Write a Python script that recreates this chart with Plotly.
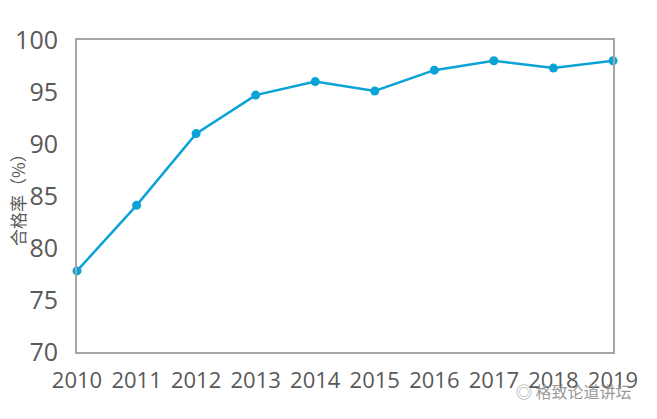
import plotly.graph_objects as go

years = [2010, 2011, 2012, 2013, 2014, 2015, 2016, 2017, 2018, 2019]
pass_rate = [77.8, 84.1, 91.0, 94.7, 96.0, 95.1, 97.1, 98.0, 97.3, 98.0]
y_ticks = [70, 75, 80, 85, 90, 95, 100]

fig = go.Figure()

fig.add_trace(go.Scatter(
    x=years,
    y=pass_rate,
    mode="lines+markers",
    line=dict(color="#0AA3D6", width=2.5),
    marker=dict(color="#0AA3D6", size=9),
    cliponaxis=False,
    showlegend=False
))

# page has an 8px body margin, so the figure is sized to fit inside it
fig.update_layout(
    width=649,
    height=411,
    margin=dict(l=69, r=44, t=32, b=67, autoexpand=False),
    plot_bgcolor="white",
    paper_bgcolor="white",
    font=dict(family="Open Sans", color="#595959"),
    xaxis=dict(
        range=[2010, 2019],
        tickvals=years,
        ticktext=[str(y) for y in years],
        tickfont=dict(size=22, color="#595959"),
        showgrid=False,
        zeroline=False,
        showline=True,
        linecolor="#A6A6A6",
        linewidth=2,
        mirror=True,
        ticks="",
        ticklabelstandoff=8,
        automargin=False
    ),
    yaxis=dict(
        range=[70, 100],
        tickvals=y_ticks,
        tickfont=dict(size=25, color="#595959"),
        showgrid=False,
        zeroline=False,
        showline=True,
        linecolor="#A6A6A6",
        linewidth=2,
        mirror=True,
        ticks="",
        ticklabelstandoff=12,
        automargin=False
    )
)

# y axis title, placed by hand so it sits left of the tick labels
fig.add_annotation(
    text="合格率（%）",
    xref="paper", yref="paper",
    x=0, y=0.5, xshift=-60,
    xanchor="center", yanchor="middle",
    textangle=-90,
    showarrow=False,
    font=dict(size=17, color="#595959", family="Noto Sans CJK SC")
)

# watermark
fig.add_annotation(
    text="◎ 格致论道讲坛",
    xref="paper", yref="paper",
    x=1.04, y=-0.125,
    xanchor="right", yanchor="middle",
    showarrow=False,
    font=dict(size=16, color="#9A9A9A", family="Noto Sans CJK SC")
)

fig.write_html("out.html")
